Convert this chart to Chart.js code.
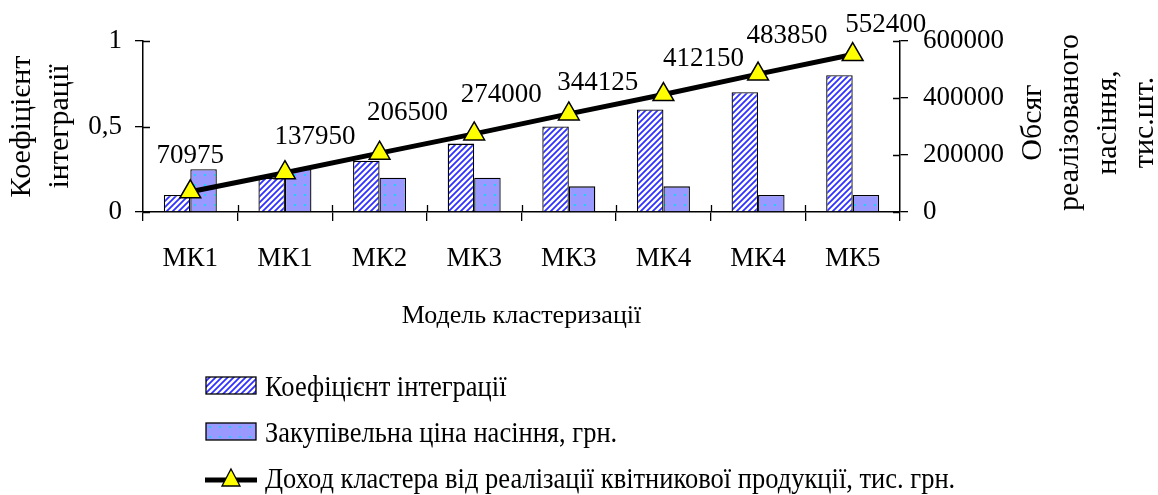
<!DOCTYPE html>
<html lang="uk">
  <head>
    <meta charset="UTF-8" />
    <title>Модель кластеризації</title>
    <script src="https://cdn.jsdelivr.net/npm/chart.js@4.4.0/dist/chart.umd.min.js"></script>
    <style>
      body { margin: 0; background: #fff; }
      #wrap { position: relative; width: 1158px; height: 495px; }
      #legend {
        position: absolute; left: 205px; top: 363px;
        font-family: "Liberation Serif", serif; font-size: 26.5px; color: #000;
      }
      .item { display: flex; align-items: center; height: 46px; white-space: nowrap; }
      .item canvas { margin-right: 8px; }
      .item span { display: inline-block; transform: scaleY(1.1); }
    </style>
  </head>
  <body>
    <div id="wrap">
      <canvas id="chart" width="1158" height="495"></canvas>
      <div id="legend">
        <div class="item"><canvas id="sw1" width="52" height="20"></canvas><span>Коефіцієнт інтеграції</span></div>
        <div class="item"><canvas id="sw2" width="52" height="20"></canvas><span>Закупівельна ціна насіння, грн.</span></div>
        <div class="item"><canvas id="sw3" width="52" height="24"></canvas><span>Доход кластера від реалізації квітникової продукції, тис. грн.</span></div>
      </div>
    </div>

    <script>
      // data
      const categories = ["МК1", "МК1", "МК2", "МК3", "МК3", "МК4", "МК4", "МК5"];
      const integrationCoef = [0.1, 0.2, 0.3, 0.4, 0.5, 0.6, 0.7, 0.8];
      const seedPrice = [0.25, 0.25, 0.2, 0.2, 0.15, 0.15, 0.1, 0.1];
      const clusterIncome = [70975, 137950, 206500, 274000, 344125, 412150, 483850, 552400];
      const leftTicks = [0, 0.5, 1];
      const rightTicks = [0, 200000, 400000, 600000];

      const FONT = "Liberation Serif";

      // fill patterns like the old Excel ones
      function hatch(ctx) {
        const c = document.createElement("canvas");
        c.width = 6;
        c.height = 6;
        const g = c.getContext("2d");
        g.fillStyle = "#fff";
        g.fillRect(0, 0, 6, 6);
        g.strokeStyle = "#3030ff";
        g.lineWidth = 1.8;
        g.beginPath();
        g.moveTo(-1, 7); g.lineTo(7, -1);
        g.moveTo(-1, 1); g.lineTo(1, -1);
        g.moveTo(5, 7); g.lineTo(7, 5);
        g.stroke();
        return ctx.createPattern(c, "repeat");
      }

      function dots(ctx) {
        const c = document.createElement("canvas");
        c.width = 10;
        c.height = 10;
        const g = c.getContext("2d");
        g.fillStyle = "#9999ff";
        g.fillRect(0, 0, 10, 10);
        g.fillStyle = "#22ccff";
        g.fillRect(4, 4, 2, 2);
        return ctx.createPattern(c, "repeat");
      }

      // excel style "cross" tick marks: the inner half
      const crossTicks = {
        id: "crossTicks",
        afterDraw(chart) {
          const ctx = chart.ctx;
          const { x, y, y2 } = chart.scales;
          ctx.save();
          ctx.strokeStyle = "#000";
          ctx.lineWidth = 1.3;
          ctx.beginPath();
          const step = (x.right - x.left) / categories.length;
          for (let i = 1; i < categories.length; i++) {
            const px = Math.round(x.left + i * step) + 0.5;
            ctx.moveTo(px, x.top);
            ctx.lineTo(px, x.top - 7);
          }
          y.ticks.forEach((t) => {
            const py = Math.round(y.getPixelForValue(t.value)) + 0.5;
            ctx.moveTo(y.right, py);
            ctx.lineTo(y.right + 7, py);
          });
          y2.ticks.forEach((t) => {
            const py = Math.round(y2.getPixelForValue(t.value)) + 0.5;
            ctx.moveTo(y2.left, py);
            ctx.lineTo(y2.left - 7, py);
          });
          ctx.stroke();
          ctx.restore();
        },
      };

      // right axis title reads bottom to top, chart.js rotates it the other way
      const rightTitle = {
        id: "rightTitle",
        afterDraw(chart) {
          const lines = ["Обсяг", "реалізованого", "насіння,", "тис.шт."];
          const ctx = chart.ctx;
          const s = chart.scales.y2;
          const lh = 37.5;
          const cy = (chart.chartArea.top + chart.chartArea.bottom) / 2 - 4;
          ctx.save();
          ctx.fillStyle = "#000";
          ctx.font = "30px " + FONT;
          ctx.textAlign = "center";
          ctx.textBaseline = "middle";
          lines.forEach((txt, i) => {
            const cx = s.right - 12.5 - (lines.length - 1 - i) * lh;
            ctx.save();
            ctx.translate(cx, cy);
            ctx.rotate(-Math.PI / 2);
            ctx.fillText(txt, 0, 0);
            ctx.restore();
          });
          ctx.restore();
        },
      };

      // value labels above the triangles, nudged like in the picture
      const nudgeX = [0, 30, 28, 27, 29, 40, 29, 33];
      const nudgeY = [29, 29, 33, 32, 24, 29, 31, 23];
      const incomeLabels = {
        id: "incomeLabels",
        afterDatasetsDraw(chart) {
          const meta = chart.getDatasetMeta(0);
          const ctx = chart.ctx;
          ctx.save();
          ctx.fillStyle = "#000";
          ctx.font = "27px " + FONT;
          ctx.textAlign = "center";
          ctx.textBaseline = "alphabetic";
          meta.data.forEach((pt, i) => {
            ctx.fillText(String(clusterIncome[i]), pt.x + nudgeX[i], pt.y - nudgeY[i]);
          });
          ctx.restore();
        },
      };

      const canvas = document.getElementById("chart");
      const ctx = canvas.getContext("2d");

      const tickFont = { family: FONT, size: 27 };

      new Chart(ctx, {
        data: {
          labels: categories,
          datasets: [
            {
              type: "line",
              label: "Доход кластера від реалізації квітникової продукції, тис. грн.",
              data: clusterIncome,
              yAxisID: "y2",
              order: 0,
              borderColor: "#000",
              borderWidth: 5,
              tension: 0,
              pointStyle: "triangle",
              pointRadius: 12,
              pointBackgroundColor: "#ffff00",
              pointBorderColor: "#000",
              pointBorderWidth: 1.5,
              clip: false,
            },
            {
              type: "bar",
              label: "Коефіцієнт інтеграції",
              data: integrationCoef,
              yAxisID: "y",
              order: 1,
              backgroundColor: hatch(ctx),
              borderColor: "#000",
              borderWidth: 1.3,
              categoryPercentage: 0.56,
              barPercentage: 1,
            },
            {
              type: "bar",
              label: "Закупівельна ціна насіння, грн.",
              data: seedPrice,
              yAxisID: "y",
              order: 1,
              backgroundColor: dots(ctx),
              borderColor: "#000",
              borderWidth: 1.3,
              categoryPercentage: 0.56,
              barPercentage: 1,
            },
          ],
        },
        options: {
          responsive: false,
          animation: false,
          layout: { padding: { top: 41, right: 0, bottom: 160, left: 0 } },
          plugins: {
            legend: { display: false },
            tooltip: { enabled: false },
          },
          scales: {
            x: {
              grid: { drawOnChartArea: false, color: "#000", lineWidth: 1.3, tickLength: 9 },
              border: { color: "#000", width: 1.5 },
              ticks: { font: tickFont, color: "#000", padding: 22, maxRotation: 0 },
              title: {
                display: true,
                text: "Модель кластеризації",
                font: { family: FONT, size: 26 },
                color: "#000",
                padding: { top: 0, bottom: 3 },
              },
              afterFit(s) { s.height = 123; },
            },
            y: {
              position: "left",
              min: 0,
              max: 1,
              afterBuildTicks(s) { s.ticks = leftTicks.map((v) => ({ value: v })); },
              grid: { drawOnChartArea: false, color: "#000", lineWidth: 1.3, tickLength: 8 },
              border: { color: "#000", width: 1.5 },
              ticks: {
                font: tickFont,
                color: "#000",
                padding: 13,
                callback: (v) => String(v).replace(".", ","),
              },
              title: {
                display: true,
                text: ["Коефіцієнт", "інтеграції"],
                font: { family: FONT, size: 30, lineHeight: 1.27 },
                color: "#000",
                padding: { top: 3, bottom: 0 },
              },
              afterFit(s) { s.width = 143; },
            },
            y2: {
              position: "right",
              min: 0,
              max: 600000,
              afterBuildTicks(s) { s.ticks = rightTicks.map((v) => ({ value: v })); },
              grid: { drawOnChartArea: false, color: "#000", lineWidth: 1.3, tickLength: 8 },
              border: { color: "#000", width: 1.5 },
              ticks: { font: tickFont, color: "#000", padding: 15, callback: (v) => String(v) },
              afterFit(s) { s.width = 258; },
            },
          },
        },
        plugins: [crossTicks, incomeLabels, rightTitle],
      });

      // legend swatches
      function swatchBox(id, fill) {
        const c = document.getElementById(id);
        const g = c.getContext("2d");
        g.fillStyle = fill(g);
        g.fillRect(1, 1, 50, 17);
        g.strokeStyle = "#000";
        g.lineWidth = 1.3;
        g.strokeRect(1, 1, 50, 17);
      }
      swatchBox("sw1", hatch);
      swatchBox("sw2", dots);

      (function () {
        const g = document.getElementById("sw3").getContext("2d");
        g.strokeStyle = "#000";
        g.lineWidth = 5;
        g.beginPath();
        g.moveTo(0, 14);
        g.lineTo(52, 14);
        g.stroke();
        g.fillStyle = "#ffff00";
        g.lineWidth = 1.3;
        g.beginPath();
        g.moveTo(26, 3);
        g.lineTo(35, 20);
        g.lineTo(17, 20);
        g.closePath();
        g.fill();
        g.stroke();
      })();
    </script>
  </body>
</html>
